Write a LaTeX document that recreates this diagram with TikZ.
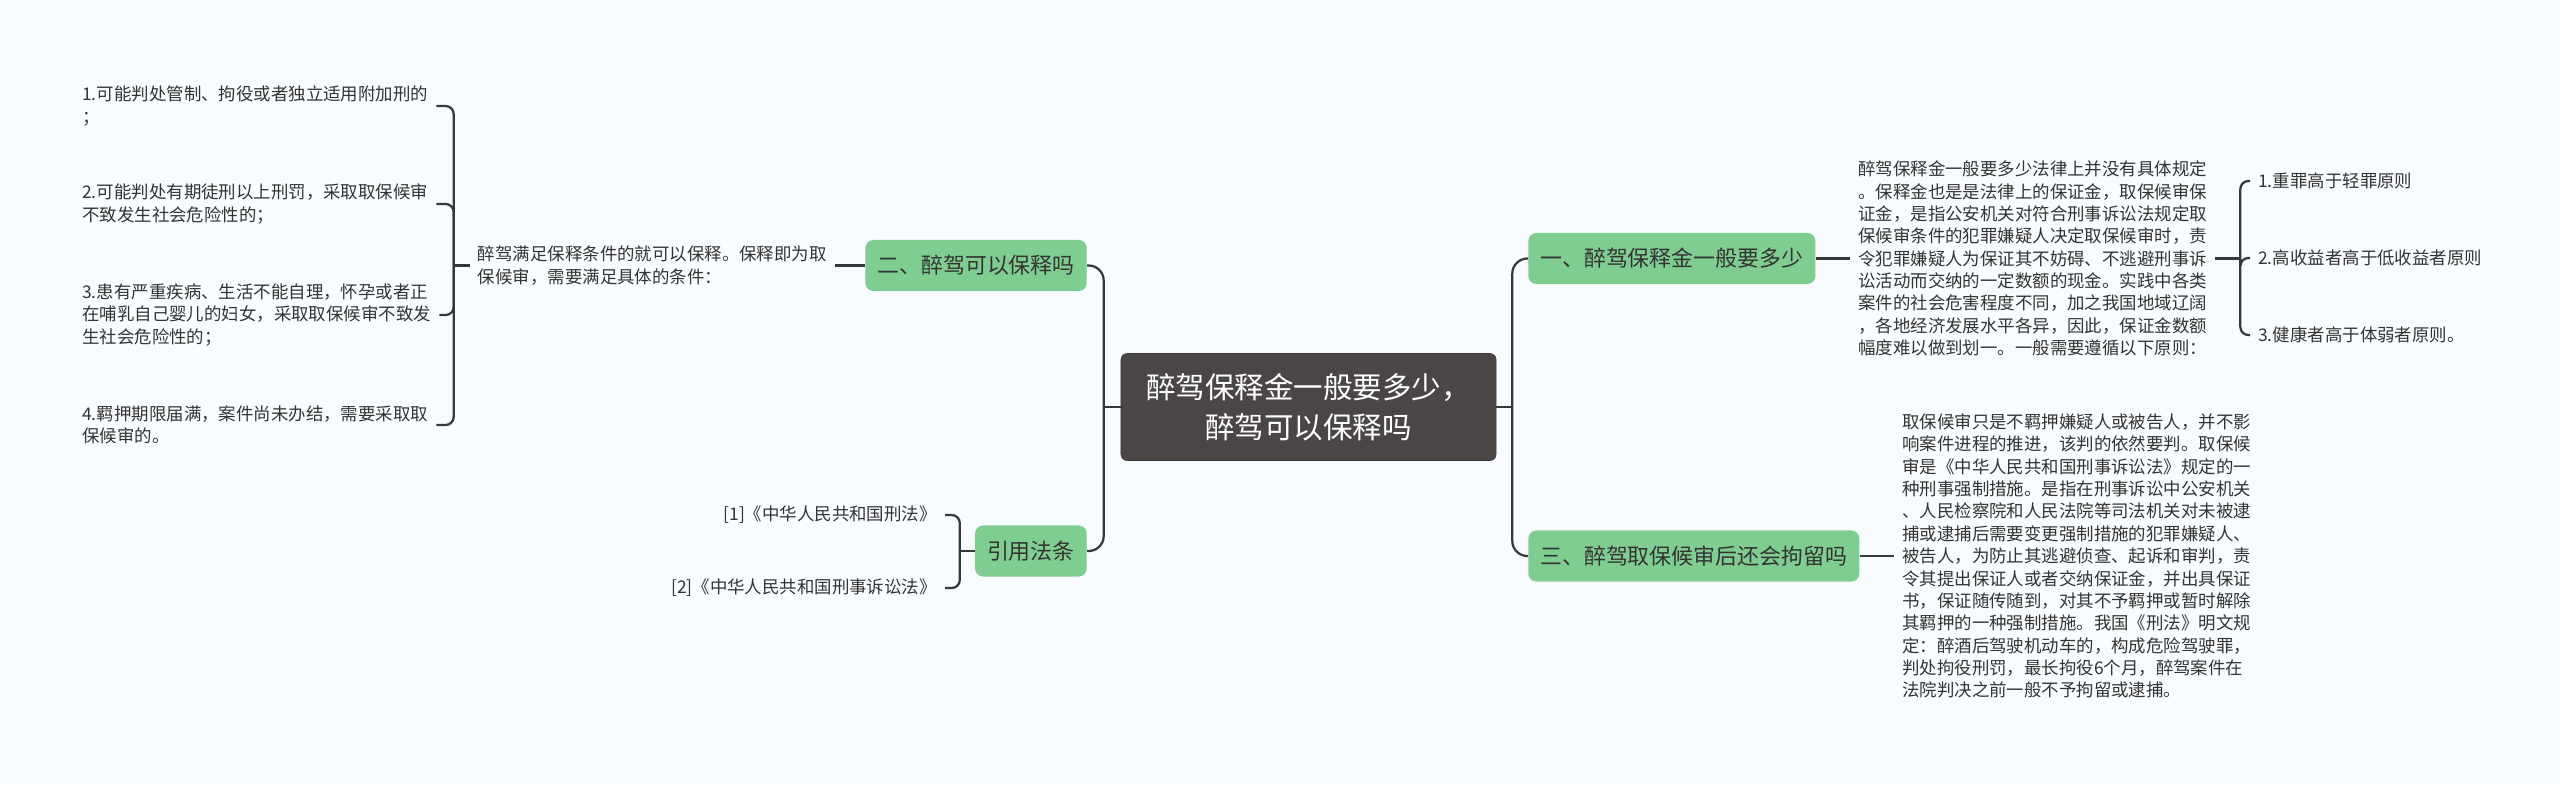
\documentclass[tikz,border=0pt]{standalone}
\usepackage{fontspec}
\setmainfont{Noto Sans CJK SC}
\usetikzlibrary{calc}
\definecolor{bgpaper}{RGB}{249,252,254}
\definecolor{hubgray}{RGB}{74,70,70}
\definecolor{topicgreen}{RGB}{128,205,146}
\definecolor{linegray}{RGB}{56,56,56}
\definecolor{txtgray}{RGB}{51,51,51}
\tikzset{
  hub/.style={fill=hubgray, draw=hubgray!80!black, rounded corners=4.3pt, text=white, align=center,
    minimum width=266.7pt, minimum height=76.1pt, font={\fontsize{21pt}{28.5pt}\selectfont}},
  topic/.style={fill=topicgreen, rounded corners=5.7pt, inner xsep=8.5pt, inner ysep=0pt,
    minimum height=36.3pt, text=txtgray, font={\fontsize{15.6pt}{18pt}\selectfont}},
  leaf/.style={inner xsep=5.7pt, inner ysep=2pt, align=left, text=txtgray,
    font={\fontsize{12.4pt}{15.9pt}\selectfont}},
  conn/.style={draw=linegray, line width=1.6pt, rounded corners=5.7pt},
}

\begin{document}
\begin{tikzpicture}[x=0.025cm, y=-0.025cm]
  % background
  \fill[bgpaper] (0,0) rectangle (2560,785);
  % central topic
  \node[hub] (root) at (1308.5,407) {醉驾保释金一般要多少，\\醉驾可以保释吗};
  % main topics
  \node[topic, anchor=west] (b1) at (1528,258.5) {一、醉驾保释金一般要多少};
  \node[topic, anchor=east] (b2) at (1087,265.5) {二、醉驾可以保释吗};
  \node[topic, anchor=west] (b3) at (1528,556) {三、醉驾取保候审后还会拘留吗};
  \node[topic, anchor=east] (b4) at (1087,551) {引用法条};
  % right side texts
  \node[leaf, anchor=west] (t1) at (1850,258.5) {醉驾保释金一般要多少法律上并没有具体规定\\
    。保释金也是是法律上的保证金，取保候审保\\
    证金，是指公安机关对符合刑事诉讼法规定取\\
    保候审条件的犯罪嫌疑人决定取保候审时，责\\
    令犯罪嫌疑人为保证其不妨碍、不逃避刑事诉\\
    讼活动而交纳的一定数额的现金。实践中各类\\
    案件的社会危害程度不同，加之我国地域辽阔\\
    ，各地经济发展水平各异，因此，保证金数额\\
    幅度难以做到划一。一般需要遵循以下原则：};
  \node[leaf, anchor=west] (r1) at (2250,181) {1.重罪高于轻罪原则};
  \node[leaf, anchor=west] (r2) at (2250,258) {2.高收益者高于低收益者原则};
  \node[leaf, anchor=west] (r3) at (2250,335) {3.健康者高于体弱者原则。};
  \node[leaf, anchor=west] (t3) at (1894,556) {取保候审只是不羁押嫌疑人或被告人，并不影\\
    响案件进程的推进，该判的依然要判。取保候\\
    审是《中华人民共和国刑事诉讼法》规定的一\\
    种刑事强制措施。是指在刑事诉讼中公安机关\\
    、人民检察院和人民法院等司法机关对未被逮\\
    捕或逮捕后需要变更强制措施的犯罪嫌疑人、\\
    被告人，为防止其逃避侦查、起诉和审判，责\\
    令其提出保证人或者交纳保证金，并出具保证\\
    书，保证随传随到，对其不予羁押或暂时解除\\
    其羁押的一种强制措施。我国《刑法》明文规\\
    定：醉酒后驾驶机动车的，构成危险驾驶罪，\\
    判处拘役刑罚，最长拘役6个月，醉驾案件在\\
    法院判决之前一般不予拘留或逮捕。};
  % left side texts
  \node[leaf, anchor=east] (t2) at (835,265.5) {醉驾满足保释条件的就可以保释。保释即为取\\
    保候审，需要满足具体的条件：};
  \node[leaf, anchor=west] (i1) at (74,106) {1.可能判处管制、拘役或者独立适用附加刑的\\；};
  \node[leaf, anchor=west] (i2) at (74,204) {2.可能判处有期徒刑以上刑罚，采取取保候审\\
    不致发生社会危险性的；};
  \node[leaf, anchor=west] (i3) at (74,315) {3.患有严重疾病、生活不能自理，怀孕或者正\\
    在哺乳自己婴儿的妇女，采取取保候审不致发\\
    生社会危险性的；};
  \node[leaf, anchor=west] (i4) at (74,425) {4.羁押期限届满，案件尚未办结，需要采取取\\
    保候审的。};
  \node[leaf, anchor=east] (f1) at (945,515) {[1]《中华人民共和国刑法》};
  \node[leaf, anchor=east] (f2) at (945,588) {[2]《中华人民共和国刑事诉讼法》};
  % junctions
  \coordinate (jl) at ($(root.west)+(-17,0)$);
  \coordinate (jr) at ($(root.east)+(16,0)$);
  \coordinate (j1) at ($(t1.east)+(25,0)$);
  \coordinate (j2) at ($(t2.west)+(-16,0)$);
  \coordinate (j4) at ($(b4.west)+(-15,0)$);
  % connectors
  \draw[conn] (root.west) -- (jl);
  \draw[conn] (root.east) -- (jr);
  \foreach \n in {b2,b4}
    \draw[conn, rounded corners=10.7pt] (jl) |- (\n.east);
  \foreach \n in {b1,b3}
    \draw[conn, rounded corners=10.7pt] (jr) |- (\n.west);
  \draw[conn] (b1.east) -- (t1.west);
  \draw[conn] (b3.east) -- (t3.west);
  \draw[conn] (b2.west) -- (t2.east);
  \draw[conn] (t1.east) -- (j1);
  \draw[conn] (t2.west) -- (j2);
  \draw[conn] (b4.west) -- (j4);
  \foreach \n in {r1,r2,r3}
    \draw[conn] (j1) |- (\n.west);
  \foreach \n in {i1,i2,i3,i4}
    \draw[conn] (j2) |- (\n.east);
  \foreach \n in {f1,f2}
    \draw[conn] (j4) |- (\n.east);
\end{tikzpicture}
\end{document}
